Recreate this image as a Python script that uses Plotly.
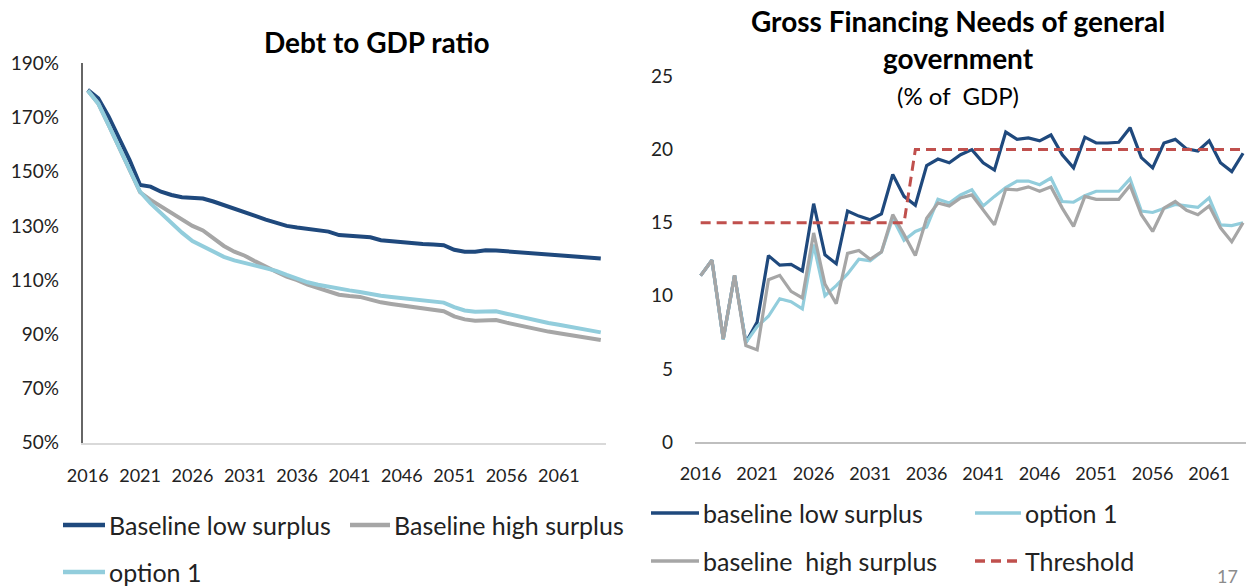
import plotly.graph_objects as go

# ---------------- DATA ----------------
years_left = list(range(2016, 2066))
years_right = list(range(2016, 2065))
tick_years = [2016, 2021, 2026, 2031, 2036, 2041, 2046, 2051, 2056, 2061]
tick_labels = ["2016", "2021", "2026", "2031", "2036", "2041", "2046", "2051", "2056", "2061"]

left_names = ["Baseline low surplus", "Baseline high surplus", "option 1"]
debt_low = [180.2, 177.1, 170.3, 162.7, 154.3, 145.1, 144.5, 142.6, 141.4, 140.6,
            140.2, 140.1, 139.0, 137.7, 136.4, 135.3, 133.7, 132.3, 131.0, 130.0,
            129.4, 128.8, 128.3, 127.9, 126.6, 126.3, 126.1, 125.8, 124.7, 124.3,
            123.9, 123.6, 123.3, 123.1, 122.9, 121.2, 120.5, 120.5, 121.0, 120.9,
            120.6, 120.3, 120.0, 119.7, 119.4, 119.1, 118.8, 118.5, 118.3, 118.0]
debt_high = [180.0, 175.2, 167.2, 159.2, 150.8, 142.4, 139.6, 137.1, 134.6, 132.2,
             130.0, 128.3, 125.4, 122.6, 120.5, 119.0, 116.9, 114.8, 113.1, 111.3,
             110.0, 108.3, 107.0, 105.8, 104.6, 104.1, 103.8, 102.8, 101.8, 101.2,
             100.7, 100.2, 99.7, 99.2, 98.5, 96.6, 95.5, 95.0, 95.0, 95.3,
             94.3, 93.4, 92.6, 91.8, 91.0, 90.4, 89.8, 89.2, 88.5, 87.9]
debt_opt1 = [180.0, 175.2, 167.2, 159.2, 150.6, 142.6, 138.3, 134.6, 131.0, 127.5,
             124.4, 122.5, 120.4, 118.6, 117.3, 116.3, 115.4, 114.4, 113.4, 111.9,
             110.4, 109.2, 108.3, 107.5, 106.8, 106.2, 105.6, 104.8, 104.2, 103.8,
             103.4, 103.0, 102.6, 102.3, 101.7, 100.0, 98.8, 98.3, 98.3, 98.5,
             97.6, 96.7, 95.9, 95.0, 94.2, 93.5, 92.8, 92.1, 91.4, 90.7]
left_ticks = [50, 70, 90, 110, 130, 150, 170, 190]
left_tick_text = ["50%", "70%", "90%", "110%", "130%", "150%", "170%", "190%"]

right_names = ["baseline low surplus", "option 1", "baseline  high surplus", "Threshold"]
gfn_low = [11.38, 12.43, 7.05, 11.4, 6.8, 8.2, 12.75, 12.1, 12.15, 11.7,
           16.3, 12.8, 12.2, 15.8, 15.45, 15.2, 15.6, 18.3, 16.8, 16.2,
           18.9, 19.35, 19.1, 19.65, 20.0, 19.1, 18.6, 21.2, 20.7, 20.8,
           20.6, 21.0, 19.65, 18.75, 20.85, 20.45, 20.45, 20.5, 21.5, 19.45,
           18.75, 20.45, 20.7, 20.05, 19.9, 20.6, 19.1, 18.5, 19.75]
gfn_opt1 = [11.38, 12.43, 7.0, 11.4, 6.8, 7.9, 8.6, 9.8, 9.6, 9.1,
            13.5, 10.0, 10.7, 11.5, 12.5, 12.4, 13.0, 15.3, 13.8, 14.4,
            14.7, 16.6, 16.35, 16.9, 17.25, 16.15, 16.8, 17.4, 17.85, 17.85,
            17.6, 18.05, 16.45, 16.4, 16.85, 17.15, 17.15, 17.15, 18.0, 15.8,
            15.7, 16.0, 16.25, 16.15, 16.05, 16.7, 14.85, 14.8, 15.0]
gfn_high = [11.38, 12.43, 7.05, 11.4, 6.6, 6.3, 11.1, 11.4, 10.3, 9.85,
            14.3, 10.8, 9.46, 12.9, 13.1, 12.5, 13.0, 15.55, 14.2, 12.75,
            15.3, 16.35, 16.15, 16.7, 16.9, 15.9, 14.85, 17.3, 17.25, 17.45,
            17.15, 17.45, 16.0, 14.75, 16.8, 16.6, 16.6, 16.6, 17.55, 15.55,
            14.4, 16.0, 16.45, 15.85, 15.55, 16.15, 14.65, 13.7, 15.0]
threshold = [15, 15, 15, 15, 15, 15, 15, 15, 15, 15,
             15, 15, 15, 15, 15, 15, 15, 15, 15, 20,
             20, 20, 20, 20, 20, 20, 20, 20, 20, 20,
             20, 20, 20, 20, 20, 20, 20, 20, 20, 20,
             20, 20, 20, 20, 20, 20, 20, 20, 20]
right_ticks = [0, 5, 10, 15, 20, 25]

# ---------------- STYLE ----------------
W, H = 1246, 587
DARK = "#1F497D"
LIGHT = "#92CDDC"
GRAY = "#A6A6A6"
RED = "#C0504D"
FONT = "Lato"
TXT = "#222222"
DASH = "10px,6px"


def px(x):
    return x / W


def py(y):
    return 1 - y / H


fig = go.Figure()

# left chart traces (draw order: low, high, option 1)
fig.add_trace(go.Scatter(x=years_left, y=debt_low, mode="lines", name=left_names[0],
                         line=dict(color=DARK, width=4), xaxis="x", yaxis="y"))
fig.add_trace(go.Scatter(x=years_left, y=debt_high, mode="lines", name=left_names[1],
                         line=dict(color=GRAY, width=4), xaxis="x", yaxis="y"))
fig.add_trace(go.Scatter(x=years_left, y=debt_opt1, mode="lines", name=left_names[2],
                         line=dict(color=LIGHT, width=4), xaxis="x", yaxis="y"))

# right chart traces
fig.add_trace(go.Scatter(x=years_right, y=gfn_low, mode="lines", name=right_names[0],
                         line=dict(color=DARK, width=3.2), xaxis="x2", yaxis="y2"))
fig.add_trace(go.Scatter(x=years_right, y=gfn_opt1, mode="lines", name=right_names[1],
                         line=dict(color=LIGHT, width=3.2), xaxis="x2", yaxis="y2"))
fig.add_trace(go.Scatter(x=years_right, y=gfn_high, mode="lines", name=right_names[2],
                         line=dict(color=GRAY, width=3.2), xaxis="x2", yaxis="y2"))
fig.add_trace(go.Scatter(x=years_right, y=threshold, mode="lines", name=right_names[3],
                         line=dict(color=RED, width=3, dash=DASH), xaxis="x2", yaxis="y2"))

xtickfont = dict(family=FONT, size=18, color=TXT)
ytickfont = dict(family=FONT, size=19, color=TXT)

fig.update_layout(
    width=W, height=H,
    margin=dict(l=0, r=0, t=0, b=0, autoexpand=False),
    paper_bgcolor="white", plot_bgcolor="white",
    showlegend=False,
    xaxis=dict(domain=[px(82.5), px(606)], range=[2015.5, 2065.5], automargin=False,
               tickvals=tick_years, ticktext=tick_labels, tickfont=xtickfont,
               showgrid=False, zeroline=False, showline=True, linecolor="#D9D9D9", linewidth=1.5,
               ticks="", ticklabelstandoff=16, anchor="y"),
    yaxis=dict(domain=[py(442.7), py(63.3)], range=[50, 190], automargin=False,
               tickvals=left_ticks, ticktext=left_tick_text, tickfont=ytickfont,
               showgrid=False, zeroline=False, showline=True, linecolor="#666666", linewidth=1.5,
               ticks="", ticklabelstandoff=18, anchor="x"),
    xaxis2=dict(domain=[px(695), 1.0], range=[2015.5, 2064.26], automargin=False,
                tickvals=tick_years, ticktext=tick_labels, tickfont=xtickfont,
                showgrid=False, zeroline=False, showline=True, linecolor="#BFBFBF", linewidth=2,
                ticks="", ticklabelstandoff=14, anchor="y2"),
    yaxis2=dict(domain=[py(442), py(76.5)], range=[0, 25], automargin=False,
                tickvals=right_ticks, tickfont=ytickfont,
                showgrid=False, zeroline=False, showline=False,
                ticks="", ticklabelstandoff=21, anchor="x2"),
)

ann = []
shapes = []

# titles
ann.append(dict(text="<b>Debt to GDP ratio</b>", x=px(377), y=py(42), xref="paper", yref="paper",
                showarrow=False, xanchor="center", yanchor="middle",
                font=dict(family=FONT, size=28, color="#000000")))
ann.append(dict(text="<b>Gross Financing Needs of general</b>", x=px(958), y=py(21), xref="paper", yref="paper",
                showarrow=False, xanchor="center", yanchor="middle",
                font=dict(family=FONT, size=28, color="#000000")))
ann.append(dict(text="<b>government</b>", x=px(958), y=py(58), xref="paper", yref="paper",
                showarrow=False, xanchor="center", yanchor="middle",
                font=dict(family=FONT, size=28, color="#000000")))
ann.append(dict(text="(% of  GDP)", x=px(958), y=py(95), xref="paper", yref="paper",
                showarrow=False, xanchor="center", yanchor="middle",
                font=dict(family=FONT, size=24, color="#000000")))


def legend_item(x0, x1, y, color, label, width, dash="solid", size=25):
    shapes.append(dict(type="line", xref="paper", yref="paper", x0=px(x0), x1=px(x1), y0=py(y), y1=py(y),
                       line=dict(color=color, width=width, dash=dash)))
    ann.append(dict(text=label, x=px(x1 + 2), y=py(y), xref="paper", yref="paper", showarrow=False,
                    xanchor="left", yanchor="middle", font=dict(family=FONT, size=size, color=TXT)))


# left legend
legend_item(63, 105, 525, DARK, left_names[0], 4.5)
legend_item(350, 390, 525, GRAY, left_names[1], 4.5)
legend_item(63, 105, 572, LIGHT, left_names[2], 4.5)

# right legend
legend_item(651, 699, 513, DARK, right_names[0], 3.5)
legend_item(975, 1021, 513, LIGHT, right_names[1], 3.5)
legend_item(651, 699, 561, GRAY, right_names[2], 3.5)
legend_item(975, 1021, 561, RED, right_names[3], 3.5, dash=DASH)

# page number
ann.append(dict(text="17", x=px(1240), y=py(576), xref="paper", yref="paper", showarrow=False,
                xanchor="right", yanchor="middle", font=dict(family=FONT, size=18, color="#8C8C8C")))

fig.update_layout(annotations=ann, shapes=shapes)

fig.write_html("out.html",
               config={"displayModeBar": False},
               post_script="document.body.style.margin='0';document.body.style.overflow='hidden';")
